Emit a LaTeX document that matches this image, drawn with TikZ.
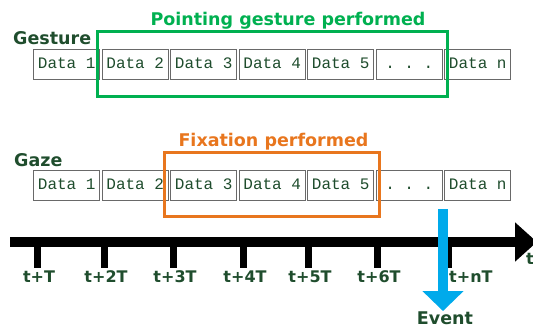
\documentclass[tikz,border=0pt]{standalone}
\usepackage{fontspec}
\setmainfont{DejaVu Sans}
\setmonofont{Liberation Mono}
\usetikzlibrary{arrows.meta}
\definecolor{darkgreen}{RGB}{31,77,45}
\definecolor{boxgreen}{RGB}{0,176,80}
\definecolor{fixorange}{RGB}{232,118,30}
\definecolor{eventblue}{RGB}{0,170,235}
\definecolor{boxgray}{RGB}{105,105,105}

\begin{document}
\begin{tikzpicture}[x=1pt, y=-1pt,
    datacell/.style={draw=boxgray, line width=1.2pt, fill=white, minimum width=66pt, minimum height=30pt,
      inner sep=0pt, text height=9pt, text depth=0pt, font=\ttfamily\fontsize{16}{18}\selectfont, text=darkgreen},
    headlabel/.style={font=\bfseries\fontsize{17.5}{20}\selectfont, inner sep=0pt},
    ticklabel/.style={font=\bfseries\fontsize{16}{18}\selectfont, text=darkgreen, inner sep=0pt, anchor=base}]
      \useasboundingbox (0,0) rectangle (533,328);

      % data cells, gesture row and gaze row
      \foreach \i/\txt in {1/Data 1, 2/Data 2, 3/Data 3, 4/Data 4, 5/Data 5, 6/. . ., 7/Data n}{
        \node[datacell] (g\i) at (66.75+68.5*\i-68.5, 64.5){\txt};
        \node[datacell] (z\i) at (66.75+68.5*\i-68.5, 185.5){\txt};
      }

      \node[headlabel, text=darkgreen, anchor=base west] (gesture) at (13, 45){Gesture};
      \node[headlabel, text=boxgreen, anchor=base] (pointing) at (288, 26){Pointing gesture performed};
      \draw[boxgreen, line width=3pt] (97, 32) rectangle (447, 97);

      \node[headlabel, text=darkgreen, anchor=base west] (gaze) at (14, 167){Gaze};
      \node[headlabel, text=fixorange, anchor=base] (fixation) at (273.5, 147){Fixation performed};
      \draw[fixorange, line width=3pt] (164, 153) rectangle (379, 217);

      % time axis
      \coordinate (tstart) at (10, 242);
      \coordinate (tend) at (537, 242);
      \draw[line width=10pt, -{Triangle[length=22pt, width=38pt]}] (tstart) -- (tend);
      \node[ticklabel, anchor=base west] (taxis) at (526, 265){t};

      \foreach \n/\x/\lbl in {1/37/t+T, 2/104/t+2T, 3/173/t+3T, 4/243/t+4T, 5/308/t+5T, 6/377/t+6T}{
        \coordinate (k\n) at (\x, 242);
        \draw[line width=7pt] (k\n) -- ++(0, 26);
        \node[ticklabel] (l\n) at (\x+2, 283){\lbl};
      }
      \coordinate (kn) at (448, 242);
      \draw[line width=7pt] (kn) -- ++(0, 26);
      \node[ticklabel, anchor=base west] (ln) at (449, 283){t+nT};

      % event
      \coordinate (evtop) at (443, 209);
      \node[headlabel, text=darkgreen, anchor=base] (event) at (445, 325){Event};
      \draw[eventblue, line width=10pt, -{Triangle[length=20pt, width=40pt]}, shorten >=1pt] (evtop) -- (evtop |- event.north);
    \end{tikzpicture}
\end{document}
